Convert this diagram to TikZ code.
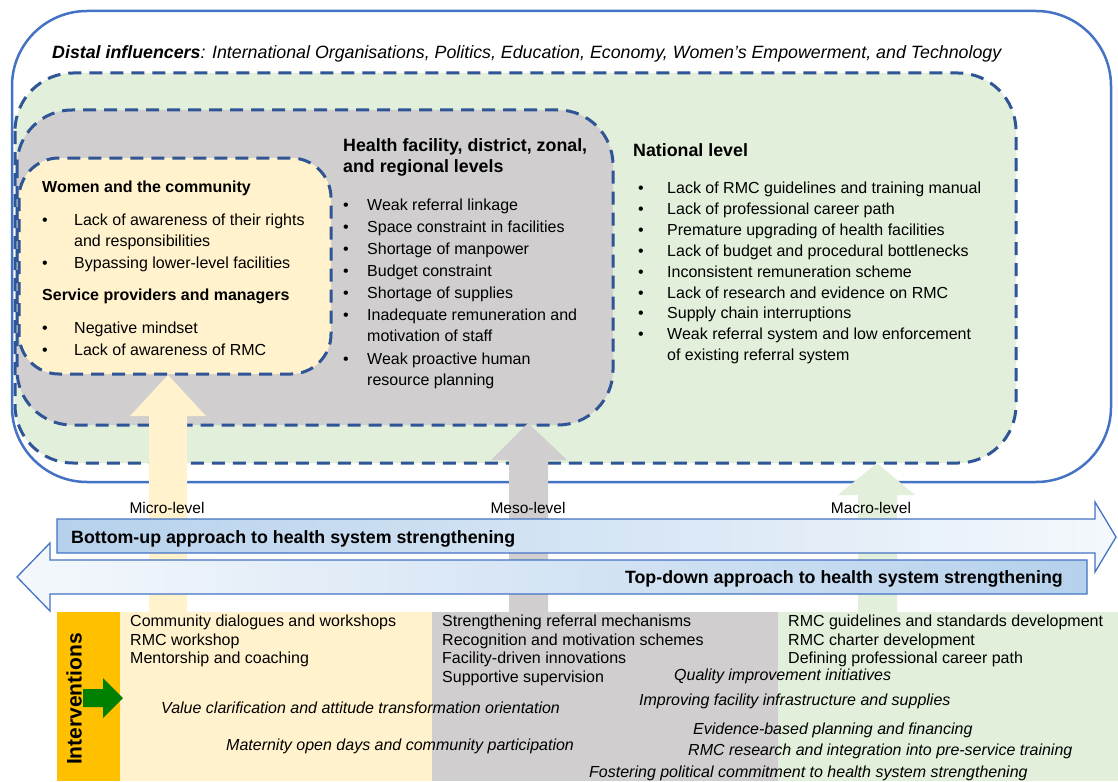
\documentclass[tikz,border=0pt]{standalone}
\usepackage{fontspec}
\setmainfont{Liberation Sans}
\definecolor{outerblue}{HTML}{4472C4}
\definecolor{dashblue}{HTML}{2F5597}
\definecolor{natgreen}{HTML}{E2EFDA}
\definecolor{mesogray}{HTML}{D0CECE}
\definecolor{microyellow}{HTML}{FFF2CC}
\definecolor{intorange}{HTML}{FFC000}
\definecolor{arrowgreen}{HTML}{008000}
\definecolor{barA}{HTML}{B6D1EC}
\definecolor{barM}{HTML}{C8DCF0}
\definecolor{barB}{HTML}{F4F8FC}
\newcommand\bitem[5]{%
  \node[txt,anchor=base] (#1-b) at (#2,#4) {\textbullet};
  \node[txt] (#1) at (#3,#4) {#5};}
\newcommand\plainline[4]{\node[txt] (#1) at (#2,#3) {#4};}
\begin{document}
\begin{tikzpicture}[x=1pt,y=-1pt,
  levelbox/.style={draw=dashblue, line width=3pt, dash pattern=on 13pt off 8pt},
  txt/.style={inner sep=0pt, anchor=base west, font=\fontsize{16}{19}\selectfont},
  hd/.style={txt, font=\bfseries\fontsize{16}{19}\selectfont},
  bighd/.style={txt, font=\bfseries\fontsize{17.8}{21}\selectfont},
  ital/.style={txt, font=\itshape\fontsize{16}{19}\selectfont},
  lvl/.style={inner sep=0pt, anchor=base, font=\fontsize{15.5}{18}\selectfont},
  hbar/.style={draw=outerblue, line width=1.3pt, line join=miter}]
\fill[white] (0,0) rectangle (1118,781);
\useasboundingbox (0,0) rectangle (1118,781);

% outer distal box
\draw[outerblue, line width=2.5pt, rounded corners=75pt] (12,11) rectangle (1111,482);
\node[txt, font=\itshape\fontsize{17.8}{21}\selectfont] (distal) at (52,59)
  {\textbf{Distal influencers}: International Organisations, Politics, Education, Economy, Women’s Empowerment, and Technology};

% level boxes
\path[fill=natgreen, levelbox, rounded corners=58pt] (15,73) rectangle (1016,463);
\path[fill=mesogray, levelbox, rounded corners=55pt] (17,110) rectangle (613,425);
\path[fill=microyellow, levelbox, rounded corners=40pt] (19,158) rectangle (331,374);

% micro box text
\node[hd] (wc) at (42,192) {Women and the community};
\bitem{y1}{45}{74}{225}{Lack of awareness of their rights}
\plainline{y1c}{74}{246}{and responsibilities}
\bitem{y2}{45}{74}{268}{Bypassing lower-level facilities}
\node[hd] (sp) at (42,300) {Service providers and managers};
\bitem{y3}{45}{74}{333}{Negative mindset}
\bitem{y4}{45}{74}{355}{Lack of awareness of RMC}

% meso box text
\node[bighd] (hf1) at (343,151) {Health facility, district, zonal,};
\node[bighd] (hf2) at (343,172) {and regional levels};
\bitem{g1}{346}{367}{210}{Weak referral linkage}
\bitem{g2}{346}{367}{232}{Space constraint in facilities}
\bitem{g3}{346}{367}{254}{Shortage of manpower}
\bitem{g4}{346}{367}{276}{Budget constraint}
\bitem{g5}{346}{367}{298}{Shortage of supplies}
\bitem{g6}{346}{367}{320}{Inadequate remuneration and}
\plainline{g6c}{367}{341}{motivation of staff}
\bitem{g7}{346}{367}{364}{Weak proactive human}
\plainline{g7c}{367}{385}{resource planning}

% macro box text
\node[bighd] (nl) at (633,157) {National level};
\bitem{n1}{641}{667}{193}{Lack of RMC guidelines and training manual}
\bitem{n2}{641}{667}{214}{Lack of professional career path}
\bitem{n3}{641}{667}{235}{Premature upgrading of health facilities}
\bitem{n4}{641}{667}{256}{Lack of budget and procedural bottlenecks}
\bitem{n5}{641}{667}{277}{Inconsistent remuneration scheme}
\bitem{n6}{641}{667}{298}{Lack of research and evidence on RMC}
\bitem{n7}{641}{667}{318}{Supply chain interruptions}
\bitem{n8}{641}{667}{339}{Weak referral system and low enforcement}
\plainline{n8c}{667}{360}{of existing referral system}

% vertical level arrows
\fill[microyellow] (149,612) -- (149,416) -- (130,416) -- (168,375) -- (206,416) -- (187,416) -- (187,612) -- cycle;
\fill[mesogray] (509,612) -- (509,460) -- (491,460) -- (528,423) -- (567,460) -- (548,460) -- (548,612) -- cycle;
\fill[natgreen] (858,612) -- (858,495) -- (838,495) -- (877,463) -- (915,495) -- (897,495) -- (897,612) -- cycle;

\node[lvl] (micro) at (167,513) {Micro-level};
\node[lvl] (meso) at (528,513) {Meso-level};
\node[lvl] (macro) at (871,513) {Macro-level};

% horizontal approach arrows
\path[hbar, left color=barA, middle color=barM, right color=barB]
  (57,519) -- (1095,519) -- (1095,502) -- (1116,537) -- (1095,572) -- (1095,553) -- (57,553) -- cycle;
\path[hbar, left color=barB, middle color=barM, right color=barA]
  (1087,560) -- (50,560) -- (50,543) -- (17,577) -- (50,611) -- (50,594) -- (1087,594) -- cycle;
\node[txt, font=\bfseries\fontsize{17.8}{21}\selectfont] (bu) at (71,543) {Bottom-up approach to health system strengthening};
\node[txt, anchor=base east, font=\bfseries\fontsize{17.8}{21}\selectfont] (td) at (1063,583) {Top-down approach to health system strengthening};

% interventions
\fill[intorange] (57,612) rectangle (120,781);
\fill[microyellow] (120,612) rectangle (432,781);
\fill[mesogray] (432,612) rectangle (778,781);
\fill[natgreen] (778,612) rectangle (1118,781);
\node[inner sep=0pt, rotate=90, font=\bfseries\fontsize{21}{24}\selectfont] (intlabel) at (74,699) {Interventions};
\fill[arrowgreen] (83,689) -- (103,689) -- (103,678) -- (123,698) -- (103,718) -- (103,707) -- (83,707) -- cycle;

\plainline{i1}{130}{626}{Community dialogues and workshops}
\plainline{i2}{130}{645}{RMC workshop}
\plainline{i3}{130}{663}{Mentorship and coaching}
\plainline{i4}{442}{626}{Strengthening referral mechanisms}
\plainline{i5}{442}{645}{Recognition and motivation schemes}
\plainline{i6}{442}{663}{Facility-driven innovations}
\plainline{i7}{442}{682}{Supportive supervision}
\plainline{i8}{788}{626}{RMC guidelines and standards development}
\plainline{i9}{788}{645}{RMC charter development}
\plainline{i10}{788}{663}{Defining professional career path}
\node[ital] (c1) at (674,680) {Quality improvement initiatives};
\node[ital] (c2) at (639,705) {Improving facility infrastructure and supplies};
\node[ital] (c3) at (161,713) {Value clarification and attitude transformation orientation};
\node[ital] (c4) at (693,734) {Evidence-based planning and financing};
\node[ital] (c5) at (226,750) {Maternity open days and community participation};
\node[ital] (c6) at (688,755) {RMC research and integration into pre-service training};
\node[ital] (c7) at (589,777) {Fostering political commitment to health system strengthening};
\end{tikzpicture}
\end{document}
